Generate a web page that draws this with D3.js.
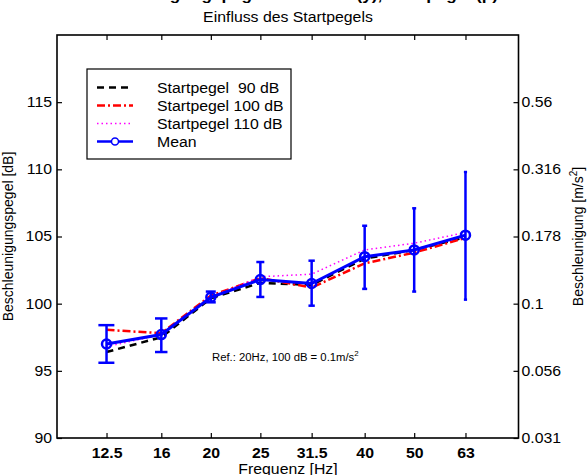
<!DOCTYPE html>
<html>
<head>
<meta charset="utf-8">
<script src="https://cdn.jsdelivr.net/npm/d3@7"></script>
<style>
  body { margin: 0; background: #fff; }
  text { font-family: Arial, "Liberation Sans", Helvetica, sans-serif; }
</style>
</head>
<body>
<div id="chart"></div>
<script>
// Terzband-Frequenzen
var freqs = [12.5, 16, 20, 25, 31.5, 40, 50, 63];
var freqLabels = ["12.5", "16", "20", "25", "31.5", "40", "50", "63"];

// Pegel je Startpegel [dB]
var pegel90  = [96.4, 97.5, 100.4, 101.55, 101.4, 103.35, 104.0, 104.95];
var pegel100 = [98.05, 97.8, 100.6, 101.9, 101.2, 103.0, 103.8, 104.9];
var pegel110 = [96.8, 97.7, 100.5, 102.0, 102.2, 104.0, 104.5, 105.3];

// Mittelwert + Fehlerbalken
var meanVals = [97.0, 97.7, 100.47, 101.8, 101.5, 103.5, 104.0, 105.1];
var errHigh  = [98.4, 98.9, 100.9, 103.1, 103.2, 105.8, 107.1, 109.8];
var errLow   = [95.6, 96.4, 100.1, 100.5, 99.85, 101.1, 100.9, 100.3];

var yTicks = [90, 95, 100, 105, 110, 115];
var yRightLabels = ["0.031", "0.056", "0.1", "0.178", "0.316", "0.56"];

var legendNames = ["Startpegel  90 dB", "Startpegel 100 dB", "Startpegel 110 dB", "Mean"];

var w = 588, h = 475;
var pL = 57, pR = 518.5, pT = 35, pB = 438;
var tickLen = 5;
var capHalf = 0.45; // Kappenbreite in Hz (Datenkoordinaten)
var stretch = 1.13; // Schrift ist im Original horizontal gedehnt

var svg = d3.select("#chart").append("svg")
    .attr("width", w)
    .attr("height", h);

var x = d3.scaleLog().domain([10, 80]).range([pL, pR]);
var y = d3.scaleLinear().domain([90, 120]).range([pB, pT]);

// horizontale Texte breiter ziehen
function widen(sel) {
    sel.each(function(){
        var el = this;
        var spans = el.querySelectorAll("tspan");
        var targets = spans.length ? Array.from(spans) : [el];
        targets.forEach(function(t){
            var len = t.getComputedTextLength();
            if (len > 0) {
                t.setAttribute("textLength", len * stretch);
                t.setAttribute("lengthAdjust", "spacingAndGlyphs");
            }
        });
    });
}

// Titel (oben abgeschnitten)
svg.append("text")
    .attr("x", 288).attr("y", 0)
    .attr("text-anchor", "middle")
    .attr("font-size", "14px")
    .attr("font-weight", "bold")
    .attr("textLength", 420)
    .attr("lengthAdjust", "spacingAndGlyphs")
    .text("Beschleunigungspegel Sitzfläche (y), Startpegel (p)");

var sub = svg.append("text")
    .attr("x", 288).attr("y", 22)
    .attr("text-anchor", "middle")
    .attr("font-size", "14px")
    .text("Einfluss des Startpegels");
widen(sub);

// Achsen: Ticks nach innen
var axB = svg.append("g").attr("transform", "translate(0," + pB + ")")
    .call(d3.axisBottom(x).tickValues(freqs).tickFormat(function(d, i){ return freqLabels[i]; })
        .tickSizeInner(-tickLen).tickSizeOuter(0).tickPadding(10));
axB.selectAll("text").attr("font-size", "14px").attr("font-weight", "bold").attr("fill", "#000");

var axT = svg.append("g").attr("transform", "translate(0," + pT + ")")
    .call(d3.axisTop(x).tickValues(freqs).tickFormat("").tickSizeInner(-tickLen).tickSizeOuter(0));

var axL = svg.append("g").attr("transform", "translate(" + pL + ",0)")
    .call(d3.axisLeft(y).tickValues(yTicks).tickSizeInner(-tickLen).tickSizeOuter(0).tickPadding(5));
axL.selectAll("text").attr("font-size", "14px").attr("fill", "#000");

var axR = svg.append("g").attr("transform", "translate(" + pR + ",0)")
    .call(d3.axisRight(y).tickValues(yTicks).tickFormat(function(d, i){ return yRightLabels[i]; })
        .tickSizeInner(-tickLen).tickSizeOuter(0).tickPadding(3));
axR.selectAll("text").attr("font-size", "14px").attr("fill", "#000");

[axB, axT, axL, axR].forEach(function(a){
    a.select(".domain").remove();
    a.selectAll("line").attr("stroke", "#000").attr("stroke-width", 1.2);
    widen(a.selectAll("text"));
});

// Rahmen
svg.append("rect")
    .attr("x", pL).attr("y", pT)
    .attr("width", pR - pL).attr("height", pB - pT)
    .attr("fill", "none").attr("stroke", "#000").attr("stroke-width", 1.6);

// Achsenbeschriftungen
var xl = svg.append("text")
    .attr("x", 288).attr("y", 474)
    .attr("text-anchor", "middle")
    .attr("font-size", "14px")
    .text("Frequenz [Hz]");
widen(xl);

svg.append("text")
    .attr("transform", "translate(13," + ((pT + pB) / 2) + ") rotate(-90)")
    .attr("text-anchor", "middle")
    .attr("font-size", "14px")
    .text("Beschleunigungspegel [dB]");

var rl = svg.append("text")
    .attr("transform", "translate(583," + ((pT + pB) / 2) + ") rotate(-90)")
    .attr("text-anchor", "middle")
    .attr("font-size", "14px");
rl.append("tspan").text("Beschleunigung [m/s");
rl.append("tspan").attr("dy", "-6").attr("font-size", "10px").text("2");
rl.append("tspan").attr("dy", "6").text("]");

// Referenz-Hinweis
var ref = svg.append("text")
    .attr("x", 212).attr("y", 361)
    .attr("font-size", "10px");
ref.append("tspan").text("Ref.: 20Hz, 100 dB = 0.1m/s");
ref.append("tspan").attr("dy", "-5").attr("font-size", "7px").text("2");
widen(ref);

// Linien
var line = d3.line()
    .x(function(d, i){ return x(freqs[i]); })
    .y(function(d){ return y(d); });

var series = [
    { vals: pegel90,  color: "#000",    width: 2.5, dash: "7,5" },
    { vals: pegel100, color: "#ff0000", width: 2.5, dash: "8,3,2,3" },
    { vals: pegel110, color: "#ff00ff", width: 1.5, dash: "1.5,3" }
];

series.forEach(function(s){
    svg.append("path")
        .attr("d", line(s.vals))
        .attr("fill", "none")
        .attr("stroke", s.color)
        .attr("stroke-width", s.width)
        .attr("stroke-dasharray", s.dash);
});

// Fehlerbalken
var eb = svg.append("g").attr("stroke", "#0000ff").attr("stroke-width", 2.5);
eb.selectAll("line.v").data(freqs).enter().append("line")
    .attr("x1", function(d){ return x(d); })
    .attr("x2", function(d){ return x(d); })
    .attr("y1", function(d, i){ return y(errLow[i]); })
    .attr("y2", function(d, i){ return y(errHigh[i]); });
eb.selectAll("line.hi").data(freqs).enter().append("line")
    .attr("x1", function(d){ return x(d - capHalf); })
    .attr("x2", function(d){ return x(d + capHalf); })
    .attr("y1", function(d, i){ return y(errHigh[i]); })
    .attr("y2", function(d, i){ return y(errHigh[i]); });
eb.selectAll("line.lo").data(freqs).enter().append("line")
    .attr("x1", function(d){ return x(d - capHalf); })
    .attr("x2", function(d){ return x(d + capHalf); })
    .attr("y1", function(d, i){ return y(errLow[i]); })
    .attr("y2", function(d, i){ return y(errLow[i]); });

svg.append("path")
    .attr("d", line(meanVals))
    .attr("fill", "none")
    .attr("stroke", "#0000ff")
    .attr("stroke-width", 3);

svg.selectAll("circle.m").data(meanVals).enter().append("circle")
    .attr("cx", function(d, i){ return x(freqs[i]); })
    .attr("cy", function(d){ return y(d); })
    .attr("r", 4.5)
    .attr("fill", "none")
    .attr("stroke", "#0000ff")
    .attr("stroke-width", 2.5);

// Legende
var lg = svg.append("g");
lg.append("rect")
    .attr("x", 87).attr("y", 69)
    .attr("width", 204).attr("height", 90)
    .attr("fill", "#fff").attr("stroke", "#000").attr("stroke-width", 1.2);

var legRows = [87.5, 105.5, 123.5, 141.5];
var legStyles = series.concat([{ color: "#0000ff", width: 2.5, dash: null }]);
legRows.forEach(function(ry, i){
    var st = legStyles[i];
    lg.append("line")
        .attr("x1", 97).attr("x2", 133)
        .attr("y1", ry).attr("y2", ry)
        .attr("stroke", st.color)
        .attr("stroke-width", st.width)
        .attr("stroke-dasharray", st.dash);
    if (i == 3) {
        lg.append("circle")
            .attr("cx", 115).attr("cy", ry).attr("r", 3.5)
            .attr("fill", "#fff").attr("stroke", "#0000ff").attr("stroke-width", 1.5);
    }
    var t = lg.append("text")
        .attr("x", 157).attr("y", ry + 5)
        .attr("font-size", "14px")
        .style("white-space", "pre")
        .text(legendNames[i]);
    widen(t);
});
</script>
</body>
</html>
